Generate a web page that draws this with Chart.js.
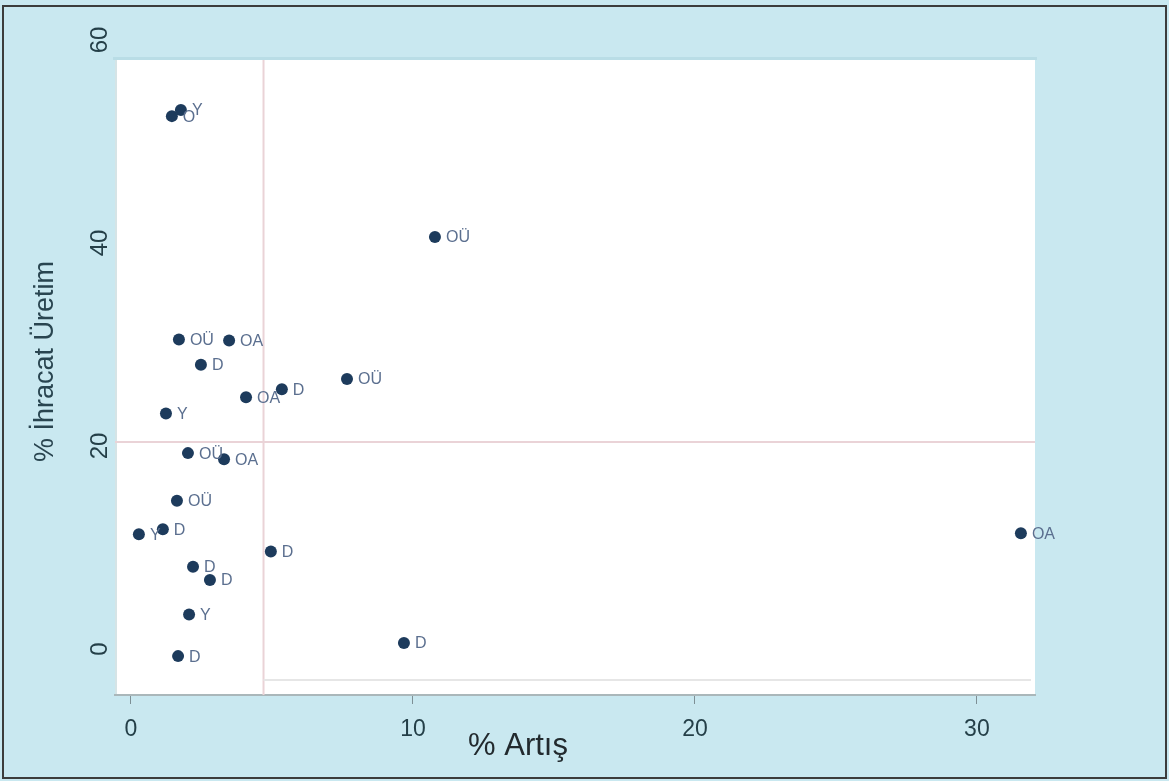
<!DOCTYPE html>
<html><head><meta charset="utf-8">
<script src="https://cdn.jsdelivr.net/npm/chart.js@4"></script>
<style>html,body{margin:0;padding:0;background:#c9e8f0}#wrap{width:1169px;height:781px}</style>
</head><body><div id="wrap"><canvas id="c" width="1169" height="781"></canvas></div>
<script>
// ---- data ----
const growthPct   = [1.45, 1.77, 10.78, 1.70, 3.48, 2.48, 4.08, 5.35, 7.66, 1.24, 2.02, 3.30, 1.63, 0.28, 1.13, 4.96, 31.56, 2.20, 2.80, 2.06, 9.68, 1.67];
const exportShare = [52.5, 53.1, 40.6, 30.5, 30.4, 28.0, 24.8, 25.6, 26.6, 23.2, 19.3, 18.7, 14.6, 11.3, 11.8, 9.6, 11.4, 8.1, 6.8, 3.4, 0.6, -0.7];
const pointLabels = ['O', 'Y', 'OÜ', 'OÜ', 'OA', 'D', 'OA', 'D', 'OÜ', 'Y', 'OÜ', 'OA', 'OÜ', 'Y', 'D', 'D', 'OA', 'D', 'D', 'Y', 'D', 'D'];
const xTicks = [0, 10, 20, 30];
const yTicks = [0, 20, 40, 60];
const refX = 4.7;    // vertical reference line (% Artış)
const refY = 20.4;   // horizontal reference line (% İhracat Üretim)
const faintY = -3.05; // faint horizontal line near bottom
const xTitle = '% Artış';
const yTitle = '% İhracat Üretim';

const FONT = "'Liberation Sans', Arial, sans-serif";

const decor = {
  id: 'decor',
  beforeDraw(chart) {
    const {ctx, chartArea: a} = chart;
    ctx.save();
    ctx.fillStyle = '#c9e8f0';
    ctx.fillRect(0, 0, chart.width, chart.height);
    ctx.strokeStyle = '#3c3c3c';
    ctx.lineWidth = 2;
    ctx.strokeRect(3, 6, 1163, 772);
    // plot region
    ctx.fillStyle = '#b9dde6';
    ctx.fillRect(a.left - 2, a.top + 17, a.right - a.left + 4, 3);
    ctx.fillStyle = '#ffffff';
    ctx.fillRect(a.left, a.top + 20, a.right - a.left, a.bottom - a.top - 20);
    ctx.fillStyle = '#d5e4e6';
    ctx.fillRect(a.left, a.top + 20, 2, a.bottom - a.top - 20);
    ctx.restore();
  },
  beforeDatasetsDraw(chart) {
    const {ctx, chartArea: a, scales: {x, y}} = chart;
    ctx.save();
    ctx.strokeStyle = '#ead3d7';
    ctx.lineWidth = 2;
    const px = x.getPixelForValue(refX);
    ctx.beginPath(); ctx.moveTo(px, a.top + 20); ctx.lineTo(px, a.bottom); ctx.stroke();
    const py = y.getPixelForValue(refY);
    ctx.beginPath(); ctx.moveTo(a.left, py); ctx.lineTo(a.right, py); ctx.stroke();
    ctx.strokeStyle = '#e6e6e6';
    ctx.lineWidth = 2;
    const fy = y.getPixelForValue(faintY);
    ctx.beginPath(); ctx.moveTo(px, fy); ctx.lineTo(a.right - 4, fy); ctx.stroke();
    ctx.restore();
  },
  afterDatasetsDraw(chart) {
    const {ctx} = chart;
    const meta = chart.getDatasetMeta(0);
    ctx.save();
    ctx.font = '16px ' + FONT;
    ctx.fillStyle = '#5b6f8f';
    ctx.textAlign = 'left';
    ctx.textBaseline = 'middle';
    meta.data.forEach((pt, i) => {
      ctx.fillText(pointLabels[i], pt.x + 11, pt.y + 1);
    });
    ctx.restore();
  },
  afterDraw(chart) {
    const {ctx, chartArea: a, scales: {y}} = chart;
    ctx.save();
    ctx.fillStyle = '#243f48';
    ctx.font = '24px ' + FONT;
    ctx.textAlign = 'center';
    ctx.textBaseline = 'middle';
    yTicks.forEach(v => {
      ctx.save();
      ctx.translate(100, y.getPixelForValue(v));
      ctx.rotate(-Math.PI / 2);
      ctx.fillText(String(v), 0, 0);
      ctx.restore();
    });
    // y title
    ctx.save();
    ctx.fillStyle = '#294550';
    ctx.font = '27px ' + FONT;
    ctx.translate(46, (a.top + a.bottom) / 2 - 6);
    ctx.rotate(-Math.PI / 2);
    ctx.fillText(yTitle, 0, 0);
    ctx.restore();
    // x title
    ctx.fillStyle = '#222a2e';
    ctx.font = '31px ' + FONT;
    ctx.fillText(xTitle, 518, 746);
    ctx.restore();
  }
};

new Chart(document.getElementById('c'), {
  type: 'scatter',
  data: {
    datasets: [{
      data: growthPct.map((v, i) => ({x: v, y: exportShare[i]})),
      backgroundColor: '#1d3b5c',
      borderWidth: 0,
      pointRadius: 6,
      pointHoverRadius: 6
    }]
  },
  options: {
    responsive: false,
    animation: false,
    devicePixelRatio: 1,
    layout: {padding: {left: 0, top: 40, right: 134, bottom: 0}},
    plugins: {legend: {display: false}, tooltip: {enabled: false}},
    scales: {
      x: {
        type: 'linear',
        min: -0.567,
        max: 32.06,
        afterBuildTicks: s => { s.ticks = xTicks.map(v => ({value: v})); },
        grid: {drawOnChartArea: false, drawTicks: true, tickLength: 9, color: '#7d8f95', tickWidth: 1},
        border: {display: true, color: '#aab7ba', width: 2},
        ticks: {font: {size: 23, family: FONT}, color: '#243f48', padding: 12, maxRotation: 0, minRotation: 0},
        afterFit: s => { s.height = 86; }
      },
      y: {
        type: 'linear',
        min: -4.53,
        max: 60,
        afterBuildTicks: s => { s.ticks = yTicks.map(v => ({value: v})); },
        grid: {display: false},
        border: {display: false},
        ticks: {display: false},
        afterFit: s => { s.width = 115; }
      }
    }
  },
  plugins: [decor]
});
</script>
</body></html>
